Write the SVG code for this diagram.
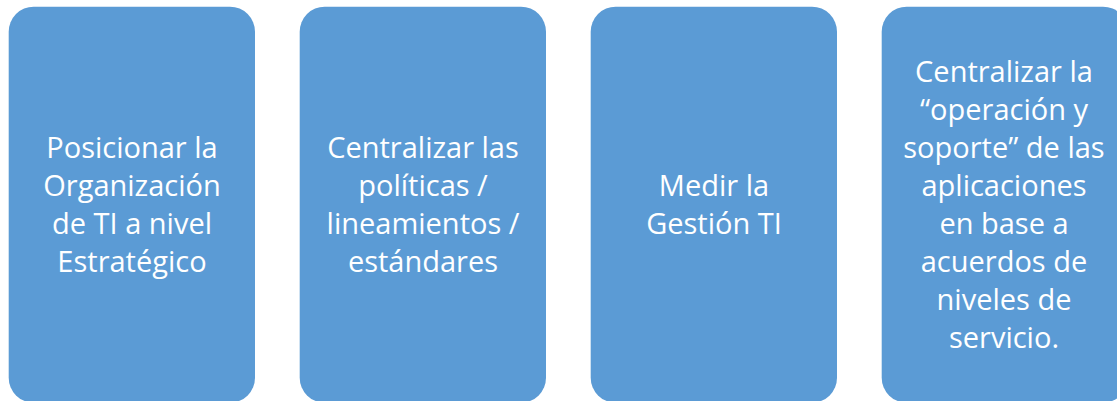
<svg xmlns="http://www.w3.org/2000/svg" width="1117" height="401" viewBox="0 0 1117 401">
<style>
.box{fill:#5B9BD5;}
.t{fill:#FFFFFF;font-family:"Open Sans","Liberation Sans",sans-serif;font-size:29px;text-anchor:middle;}
</style>
<rect width="1117" height="401" fill="#FFFFFF"/>
<g id="connectors"></g>
<g id="node1">
<rect class="box" x="8.7" y="6.7" width="246.3" height="396" rx="25" ry="25"/>
<text class="t" x="132" y="158">Posicionar la</text>
<text class="t" x="132" y="196">Organización</text>
<text class="t" x="132" y="234">de TI a nivel</text>
<text class="t" x="132" y="272">Estratégico</text>
</g>
<g id="node2">
<rect class="box" x="299.7" y="6.7" width="246.3" height="396" rx="25" ry="25"/>
<text class="t" x="423" y="158">Centralizar las</text>
<text class="t" x="423" y="196">políticas /</text>
<text class="t" x="423" y="234">lineamientos /</text>
<text class="t" x="423" y="272">estándares</text>
</g>
<g id="node3">
<rect class="box" x="590.7" y="6.7" width="246.3" height="396" rx="25" ry="25"/>
<text class="t" x="714" y="196">Medir la</text>
<text class="t" x="714" y="234">Gestión TI</text>
</g>
<g id="node4">
<rect class="box" x="881.7" y="6.7" width="246.3" height="396" rx="25" ry="25"/>
<text class="t" x="1004" y="82">Centralizar la</text>
<text class="t" x="1004" y="120">“operación y</text>
<text class="t" x="1004" y="158">soporte” de las</text>
<text class="t" x="1004" y="196">aplicaciones</text>
<text class="t" x="1004" y="234">en base a</text>
<text class="t" x="1004" y="272">acuerdos de</text>
<text class="t" x="1004" y="310">niveles de</text>
<text class="t" x="1004" y="348">servicio.</text>
</g>
</svg>
